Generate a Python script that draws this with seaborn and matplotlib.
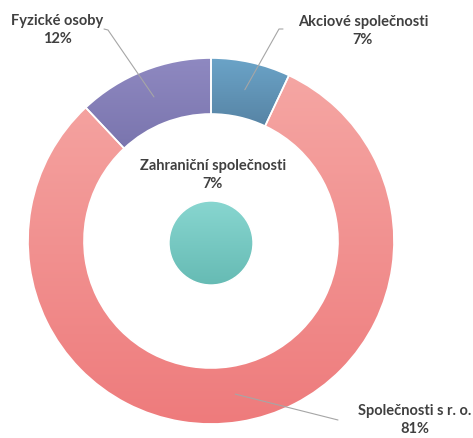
import numpy as np
import seaborn as sns
import matplotlib.pyplot as plt
from matplotlib.colors import LinearSegmentedColormap

# Data
outer_labels = ["Akciové společnosti", "Společnosti s r. o.", "Fyzické osoby"]
outer_shares = [7, 81, 12]
inner_label = "Zahraniční společnosti"
inner_share = [7]

# colours (top / bottom of gradient)
outer_top = ["#6ba4c8", "#f5a6a3", "#8f89c1"]
outer_bottom = ["#5784a5", "#ee7b7c", "#7a75ae"]
inner_top = "#88d6d0"
inner_bottom = "#66bbb4"

W, H = 473, 438
CX, CY = 211, H - 241
R_OUT, R_IN = 183, 127
R_CORE = 42
TEXT = "#404040"

sns.set_theme(style="white")
plt.rcParams["font.family"] = ["Lato", "DejaVu Sans"]

fig = plt.figure(figsize=(W / 100, H / 100), dpi=100)
ax = fig.add_axes([0, 0, 1, 1])


def gradient_fill(ax, wedge, top, bottom):
    cmap = LinearSegmentedColormap.from_list("g", [bottom, top])
    ext = wedge.get_path().get_extents()
    grad = np.linspace(0, 1, 256).reshape(-1, 1)
    img = ax.imshow(grad, cmap=cmap, origin="lower", aspect="auto",
                    extent=[ext.x0, ext.x1, ext.y0, ext.y1],
                    interpolation="bicubic", zorder=1)
    img.set_clip_path(wedge)
    wedge.set_facecolor("none")
    wedge.set_zorder(2)


wedges, _ = ax.pie(outer_shares, radius=R_OUT, center=(CX, CY), startangle=90,
                   counterclock=False,
                   wedgeprops=dict(width=R_OUT - R_IN, edgecolor="white", linewidth=1.2))
for w, t, b in zip(wedges, outer_top, outer_bottom):
    gradient_fill(ax, w, t, b)

core, _ = ax.pie(inner_share, radius=R_CORE, center=(CX, H - 243),
                 wedgeprops=dict(edgecolor="white", linewidth=1))
gradient_fill(ax, core[0], inner_top, inner_bottom)


def mid_point(w, frac=0.847):
    ang = np.deg2rad((w.theta1 + w.theta2) / 2)
    return CX + R_OUT * frac * np.cos(ang), CY + R_OUT * frac * np.sin(ang)


# label layout: text centre and leader-line elbow points (pixels from top-left)
label_pos = [(363, 31), (415, 420), (57, 30)]
leader_elbow = [[(283, 29), (279, 29)], [(338, 420)], [(104, 29), (108, 30)]]

total = sum(outer_shares)
for w, lab, val, pos, elbow in zip(wedges, outer_labels, outer_shares, label_pos, leader_elbow):
    ax.text(pos[0], H - pos[1], f"{lab}\n{round(100 * val / total)}%", ha="center",
            va="center", fontsize=10.5, fontweight="bold", color=TEXT,
            linespacing=1.4, zorder=5)
    mx, my = mid_point(w)
    xs = [p[0] for p in elbow] + [mx]
    ys = [H - p[1] for p in elbow] + [my]
    ax.plot(xs, ys, color="#a6a6a6", linewidth=0.8, zorder=4)

ax.text(213, H - 175, f"{inner_label}\n{inner_share[0]}%", ha="center", va="center",
        fontsize=10.5, fontweight="bold", color=TEXT, linespacing=1.4, zorder=5)

ax.set_xlim(0, W)
ax.set_ylim(0, H)
ax.set_aspect("equal")
ax.axis("off")

plt.savefig("out.png", dpi=100)
